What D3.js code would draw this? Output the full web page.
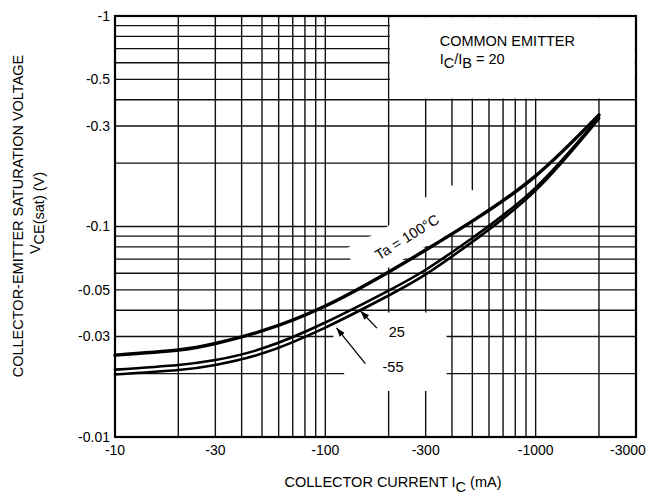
<!DOCTYPE html>
<meta charset="utf-8">
<script src="https://d3js.org/d3.v7.min.js"></script>
<body style="margin:0; background:#fff">
<div id="chart"></div>
<script>

  const current = [-10, -20, -30, -50, -100, -200, -300, -500, -1000, -2000];
  // VCE(sat) in volts, one list per ambient temperature
  const vce100 = [-0.0245, -0.0259, -0.0278, -0.0319, -0.0419, -0.0608, -0.0773, -0.106, -0.174, -0.339];
  const vce25  = [-0.0209, -0.0220, -0.0232, -0.0263, -0.0350, -0.0496, -0.0623, -0.0882, -0.1530, -0.330];
  const vceM55 = [-0.0198, -0.0208, -0.0220, -0.0249, -0.0331, -0.0470, -0.0592, -0.0845, -0.1485, -0.3255];

  // labelled ticks
  const xTicks = [-10, -30, -100, -300, -1000, -3000];
  const yTicks = [-1, -0.5, -0.3, -0.1, -0.05, -0.03, -0.01];

  // parts of the grid left blank for the texts (data units)
  const legendGap = [[-200, -0.4], [-3000, -1]];
  const gap100 = [[-193, -0.0984], [-296, -0.1366], [-390, -0.1574], [-501, -0.1491], [-559, -0.1265],
                  [-501, -0.105], [-390, -0.0921], [-296, -0.0799], [-198, -0.0635], [-134.5, -0.0649],
                  [-127, -0.0791], [-164, -0.0901]];
  const gapLow = [[-115, -0.0352], [-150, -0.039], [-377, -0.039], [-377, -0.01654],
                  [-131.5, -0.01654], [-122, -0.0204], [-108, -0.0289]];

  // curve labels and their pointers (data units)
  const tempLabels = [
    {text: "Ta = 100°C", x: -180, y: -0.0690, rot: -32},
    {text: "25", x: -200, y: -0.0300, rot: 0},
    {text: "-55", x: -187, y: -0.0204, rot: 0}
  ];
  const pointers = [
    {from: [-176, -0.0329], to: [-147, -0.0397]},
    {from: [-155, -0.0223], to: [-113, -0.0330]}
  ];

  const margin = {top: 16, right: 16, bottom: 57, left: 115},
      width = 652 - margin.left - margin.right,
      height = 494 - margin.top - margin.bottom;

  const font = "'Liberation Sans', Arial, Helvetica, sans-serif";

  const root = d3.select("#chart")
    .append("svg")
      .attr("width", width + margin.left + margin.right)
      .attr("height", height + margin.top + margin.bottom)
      .style("font-family", font);

  const svg = root.append("g")
      .attr("transform", `translate(${margin.left},${margin.top})`);

  const x = d3.scaleLog().domain([-10, -3000]).range([0, width]);
  const y = d3.scaleLog().domain([-0.01, -1]).range([height, 0]);

  // grid
  const grid = svg.append("g").attr("stroke", "#111").attr("stroke-width", 1.4);
  grid.selectAll("line.v")
    .data(x.ticks())
    .join("line")
      .attr("x1", d => x(d)).attr("x2", d => x(d))
      .attr("y1", 0).attr("y2", height);
  grid.selectAll("line.h")
    .data(y.ticks())
    .join("line")
      .attr("class", "h")
      .attr("y1", d => y(d)).attr("y2", d => y(d))
      .attr("x1", 0).attr("x2", width);

  // blank out the grid behind the texts
  const masks = svg.append("g").attr("fill", "#fff");
  masks.append("rect")
      .attr("x", x(legendGap[0][0]) + 1.2)
      .attr("y", y(legendGap[1][1]) + 1.2)
      .attr("width", x(legendGap[1][0]) - x(legendGap[0][0]) - 2.4)
      .attr("height", y(legendGap[0][1]) - y(legendGap[1][1]) - 2.4);
  masks.selectAll("polygon")
    .data([gap100, gapLow])
    .join("polygon")
      .attr("points", d => d.map(p => [x(p[0]), y(p[1])].join(",")).join(" "));

  // frame
  svg.append("rect")
      .attr("width", width).attr("height", height)
      .attr("fill", "none").attr("stroke", "#000").attr("stroke-width", 2.2);

  // curves
  const line = d3.line()
      .x(d => x(d[0]))
      .y(d => y(d[1]))
      .curve(d3.curveNatural);
  const series = [
    {v: vce100, w: 3.4},
    {v: vce25, w: 2.6},
    {v: vceM55, w: 2.6}
  ];
  svg.append("g")
    .selectAll("path")
    .data(series)
    .join("path")
      .attr("fill", "none")
      .attr("stroke", "#000")
      .attr("stroke-width", d => d.w)
      .attr("stroke-linecap", "round")
      .attr("d", d => line(current.map((c, i) => [c, d.v[i]])));

  // pointers
  svg.append("defs").append("marker")
      .attr("id", "head")
      .attr("viewBox", "0 0 10 10")
      .attr("refX", 10).attr("refY", 5)
      .attr("markerWidth", 7).attr("markerHeight", 7)
      .attr("orient", "auto")
    .append("path")
      .attr("d", "M0,1.5 L10,5 L0,8.5 Z")
      .attr("fill", "#000");
  svg.append("g")
    .selectAll("line")
    .data(pointers)
    .join("line")
      .attr("x1", d => x(d.from[0])).attr("y1", d => y(d.from[1]))
      .attr("x2", d => x(d.to[0])).attr("y2", d => y(d.to[1]))
      .attr("stroke", "#000").attr("stroke-width", 1.3)
      .attr("marker-end", "url(#head)");

  svg.append("g")
    .selectAll("text")
    .data(tempLabels)
    .join("text")
      .attr("transform", d => `translate(${x(d.x)},${y(d.y)}) rotate(${d.rot})`)
      .style("font-size", "14.5px")
      .text(d => d.text);

  // tick labels
  svg.append("g")
    .selectAll("text")
    .data(xTicks)
    .join("text")
      .attr("x", (d, i) => x(d) - (i === xTicks.length - 1 ? 8 : 0))
      .attr("y", height + 18)
      .attr("text-anchor", "middle")
      .style("font-size", "14px")
      .text(d => String(d));
  svg.append("g")
    .selectAll("text")
    .data(yTicks)
    .join("text")
      .attr("x", -5)
      .attr("y", d => y(d))
      .attr("dy", "0.35em")
      .attr("text-anchor", "end")
      .style("font-size", "14px")
      .text(d => String(d));

  // legend box text
  const legend = svg.append("text")
      .attr("x", x(-300) + 14)
      .attr("y", 30)
      .style("font-size", "14.5px");
  legend.append("tspan").text("COMMON EMITTER");
  const ratio = svg.append("text")
      .attr("x", x(-300) + 14)
      .attr("y", 48)
      .style("font-size", "14.5px");
  ratio.append("tspan").text("I");
  ratio.append("tspan").attr("dy", 4).text("C");
  ratio.append("tspan").attr("dy", -4).text("/I");
  ratio.append("tspan").attr("dy", 4).text("B");
  ratio.append("tspan").attr("dy", -4).text(" = 20");

  // axis titles
  const xt = root.append("text")
      .attr("x", 393)
      .attr("y", 487)
      .attr("text-anchor", "middle")
      .style("font-size", "14.5px");
  xt.append("tspan").text("COLLECTOR CURRENT I");
  xt.append("tspan").attr("dy", 5).text("C");
  xt.append("tspan").attr("dy", -5).text(" (mA)");

  root.append("text")
      .attr("transform", "translate(23,216) rotate(-90)")
      .attr("text-anchor", "middle")
      .style("font-size", "14.5px")
      .text("COLLECTOR-EMITTER SATURATION VOLTAGE");
  const yt = root.append("text")
      .attr("transform", "translate(40,213) rotate(-90)")
      .attr("text-anchor", "middle")
      .style("font-size", "14.5px");
  yt.append("tspan").text("V");
  yt.append("tspan").attr("dy", 4).text("CE(sat)");
  yt.append("tspan").text(" (V)");

</script>
</body>
